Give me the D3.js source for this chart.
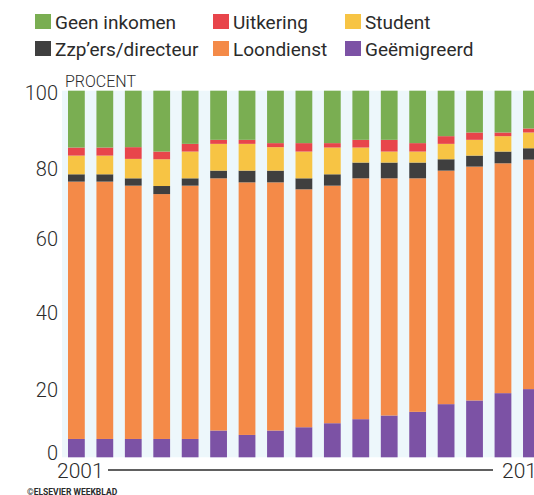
<!DOCTYPE html>
<html>
<head>
<meta charset="utf-8">
<script src="https://cdn.jsdelivr.net/npm/d3@7"></script>
<style>
  html, body { margin: 0; padding: 0; background: #fff; overflow: hidden; }
  svg { display: block; }
  text { font-family: Roboto, "Noto Sans", sans-serif; fill: #2b2b2b; }
</style>
</head>
<body>
<svg id="chart" width="534" height="495"></svg>
<script>
// ---- Data ----
const years = ["2001","2002","2003","2004","2005","2006","2007","2008","2009",
               "2010","2011","2012","2013","2014","2015","2016","2017"];
const geemigreerd = [5.0, 5.0, 5.0, 5.0, 5.0, 7.3, 6.1, 7.3, 8.2, 9.3, 10.4, 11.4, 12.4, 14.5, 15.5, 17.5, 18.6];
const loondienst  = [70.2, 70.2, 69.1, 66.8, 69.1, 68.8, 68.9, 67.7, 64.9, 64.8, 65.7, 64.7, 63.7, 63.7, 63.8, 62.7, 62.6];
const zzp         = [2.0, 2.0, 2.0, 2.2, 2.0, 2.1, 3.2, 3.2, 3.0, 3.1, 4.3, 4.3, 4.3, 3.1, 3.0, 3.2, 3.1];
const student     = [5.1, 5.1, 5.3, 7.3, 7.3, 7.3, 7.3, 6.4, 7.3, 7.3, 4.1, 3.0, 3.0, 4.2, 4.3, 4.2, 4.3];
const uitkering   = [2.2, 2.2, 3.2, 2.1, 2.1, 1.1, 1.1, 1.1, 2.3, 1.2, 2.1, 3.2, 2.3, 2.1, 2.0, 1.0, 1.1];
const geenInkomen = [15.5, 15.5, 15.4, 16.6, 14.5, 13.4, 13.4, 14.3, 14.3, 14.3, 13.4, 13.4, 14.3, 12.4, 11.4, 11.4, 10.3];
const yTicks = [0, 20, 40, 60, 80, 100];

const seriesKeys  = ["Geëmigreerd", "Loondienst", "Zzp'ers/directeur", "Student", "Uitkering", "Geen inkomen"];
const seriesVals  = [geemigreerd, loondienst, zzp, student, uitkering, geenInkomen];
const colors = {
  "Geen inkomen": "#7aae52",
  "Uitkering": "#e8454b",
  "Student": "#f7c444",
  "Zzp'ers/directeur": "#3f3f3f",
  "Loondienst": "#f48a48",
  "Geëmigreerd": "#7c52a5"
};
const legendRows = [
  ["Geen inkomen", "Uitkering", "Student"],
  ["Zzp’ers/directeur", "Loondienst", "Geëmigreerd"]
];
const legendColorKey = {
  "Geen inkomen": "Geen inkomen", "Uitkering": "Uitkering", "Student": "Student",
  "Zzp’ers/directeur": "Zzp'ers/directeur", "Loondienst": "Loondienst", "Geëmigreerd": "Geëmigreerd"
};

// ---- Build table ----
const table = years.map((y, i) => {
  const row = { year: y };
  seriesKeys.forEach((k, j) => row[k] = seriesVals[j][i]);
  return row;
});

const svg = d3.select("#chart");
const plotTop = 90.7, plotBottom = 457.3;

const x = d3.scaleBand().domain(years).range([68, 539.8]).paddingInner(0.41).paddingOuter(0);
const y = d3.scaleLinear().domain([0, 100]).range([plotBottom, plotTop]);

// plot background
svg.append("rect")
  .attr("x", 62).attr("y", y(100))
  .attr("width", 534 - 62).attr("height", y(0) - y(100))
  .attr("fill", "#edf7fb");

const stacked = d3.stack().keys(seriesKeys)(table);

svg.append("g").selectAll("g")
  .data(stacked)
  .join("g")
  .attr("fill", d => colors[d.key])
  .selectAll("rect")
  .data(d => d)
  .join("rect")
  .attr("x", d => x(d.data.year))
  .attr("y", d => y(d[1]))
  .attr("width", x.bandwidth())
  .attr("height", d => y(d[0]) - y(d[1]));

// y tick labels
const yOffsets = {0: -4, 20: 6, 40: 2, 60: 2, 80: 5, 100: 2};
svg.append("g").selectAll("text")
  .data(yTicks)
  .join("text")
  .attr("x", 58)
  .attr("y", d => y(d) + yOffsets[d])
  .attr("text-anchor", "end")
  .attr("dominant-baseline", "central")
  .attr("font-size", 20)
  .attr("font-weight", 300)
  .text(d => d);

// PROCENT label
svg.append("text")
  .attr("x", 65).attr("y", 87)
  .attr("font-size", 16)
  .attr("font-weight", 300)
  .text("PROCENT");

// x axis labels and line
svg.append("text")
  .attr("x", 57).attr("y", 478)
  .attr("font-size", 21).attr("font-weight", 300)
  .text(years[0]);
svg.append("text")
  .attr("x", 502).attr("y", 478)
  .attr("font-size", 21).attr("font-weight", 300)
  .text(years[years.length - 1]);
svg.append("line")
  .attr("x1", 108).attr("x2", 493)
  .attr("y1", 470).attr("y2", 470)
  .attr("stroke", "#2b2b2b").attr("stroke-width", 1.3);

// legend
const colX = [35, 213, 345];
const rowY = [14, 41];
legendRows.forEach((row, ri) => {
  row.forEach((name, ci) => {
    const g = svg.append("g").attr("transform", `translate(${colX[ci]},${rowY[ri]})`);
    g.append("rect").attr("width", 16).attr("height", 15).attr("fill", colors[legendColorKey[name]]);
    g.append("text").attr("x", 20).attr("y", 14.5)
      .attr("font-size", 19).attr("font-weight", 400)
      .text(name);
  });
});

// credit
svg.append("text")
  .attr("x", 27).attr("y", 494.5)
  .attr("font-size", 8.5).attr("font-weight", 700)
  .text("©ELSEVIER WEEKBLAD");
</script>
</body>
</html>
